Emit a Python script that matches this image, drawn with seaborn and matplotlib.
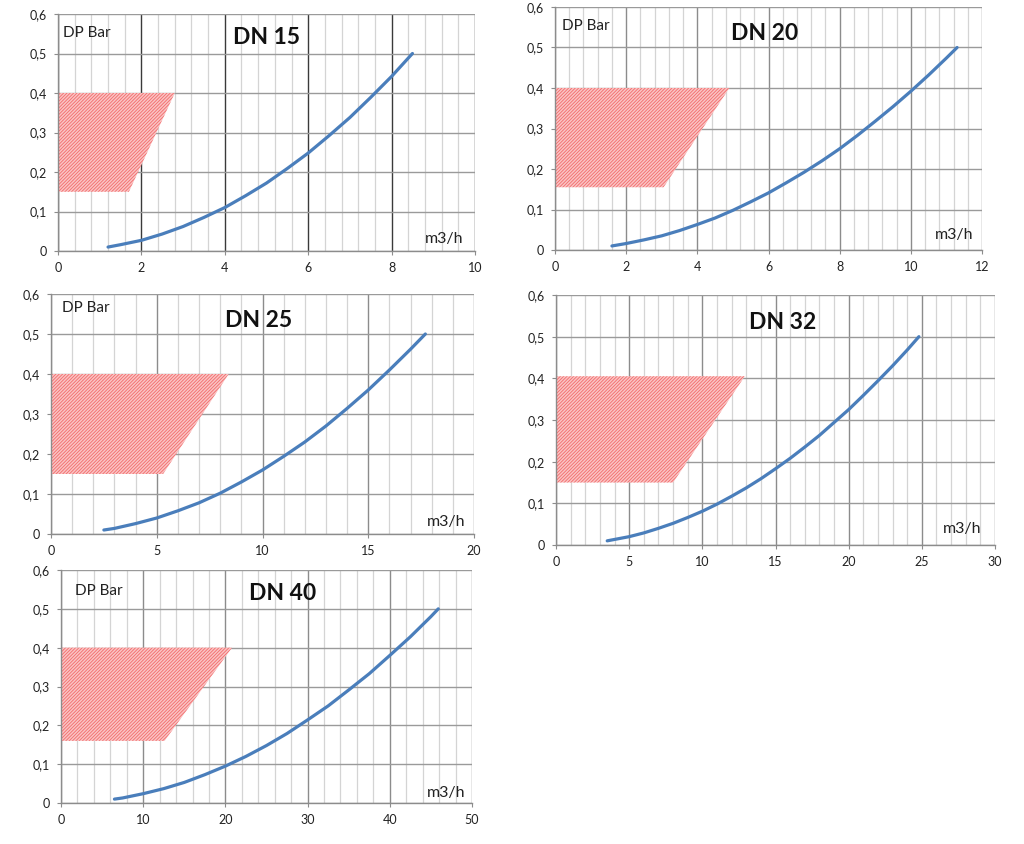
import numpy as np
import pandas as pd
import matplotlib
matplotlib.use("Agg")
import matplotlib.pyplot as plt
from matplotlib.patches import Polygon
from matplotlib.ticker import FuncFormatter, MultipleLocator
import seaborn as sns

sns.set_style("white")
plt.rcParams['font.family'] = ['Lato', 'DejaVu Sans']
plt.rcParams['hatch.linewidth'] = 0.6

# ---- data ----
titles = ["DN 15", "DN 20", "DN 25", "DN 32", "DN 40"]

q_dn15 = [1.2, 1.5, 2.0, 2.5, 3.0, 3.5, 4.0, 4.5, 5.0, 5.5, 6.0, 6.5, 7.0, 7.5, 8.0, 8.5]
dp_dn15 = [0.010, 0.016, 0.027, 0.043, 0.062, 0.085, 0.110, 0.140, 0.172, 0.209,
           0.248, 0.292, 0.338, 0.389, 0.442, 0.500]

q_dn20 = [1.6, 2.0, 2.5, 3.0, 3.5, 4.0, 4.5, 5.0, 5.5, 6.0, 6.5, 7.0, 7.5, 8.0, 8.5,
          9.0, 9.5, 10.0, 10.5, 11.0, 11.3]
dp_dn20 = [0.010, 0.016, 0.025, 0.035, 0.048, 0.063, 0.079, 0.098, 0.119, 0.141,
           0.166, 0.192, 0.220, 0.250, 0.283, 0.318, 0.354, 0.392, 0.432, 0.474, 0.500]

q_dn25 = [2.5, 3, 4, 5, 6, 7, 8, 9, 10, 11, 12, 13, 14, 15, 16, 17, 17.7]
dp_dn25 = [0.010, 0.014, 0.026, 0.040, 0.058, 0.078, 0.102, 0.130, 0.160, 0.194,
           0.230, 0.270, 0.314, 0.360, 0.410, 0.462, 0.500]

q_dn32 = [3.5, 5, 6, 7, 8, 9, 10, 11, 12, 13, 14, 15, 16, 17, 18, 19, 20, 21, 22,
          23, 24, 24.8]
dp_dn32 = [0.010, 0.020, 0.029, 0.040, 0.052, 0.066, 0.081, 0.098, 0.117, 0.137,
           0.159, 0.183, 0.208, 0.235, 0.263, 0.294, 0.325, 0.359, 0.394, 0.430,
           0.468, 0.500]

q_dn40 = [6.5, 7.5, 10, 12.5, 15, 17.5, 20, 22.5, 25, 27.5, 30, 32.5, 35, 37.5, 40,
          42.5, 45, 45.9]
dp_dn40 = [0.010, 0.013, 0.024, 0.037, 0.053, 0.073, 0.095, 0.120, 0.148, 0.179,
           0.214, 0.250, 0.291, 0.333, 0.380, 0.428, 0.480, 0.500]

# hatched zone corners: (x at bottom-right, x at top-right, y bottom, y top)
zone_dn15 = [1.7, 2.8, 0.15, 0.40]
zone_dn20 = [3.05, 4.9, 0.155, 0.40]
zone_dn25 = [5.3, 8.4, 0.15, 0.40]
zone_dn32 = [8.0, 12.9, 0.15, 0.405]
zone_dn40 = [12.6, 20.8, 0.16, 0.40]

x_max = [10, 12, 20, 30, 50]
x_major = [2, 2, 5, 5, 10]
x_minor = [0.4, 0.4, 1, 1, 2]
show_dp = [True, True, True, False, True]

curves = [(q_dn15, dp_dn15), (q_dn20, dp_dn20), (q_dn25, dp_dn25),
          (q_dn32, dp_dn32), (q_dn40, dp_dn40)]
zones = [zone_dn15, zone_dn20, zone_dn25, zone_dn32, zone_dn40]

# ---- layout ----
W, H = 1024, 844
boxes_px = [(58, 14, 475, 251), (555, 7, 982, 250), (51, 294, 474, 534),
            (556, 295, 995, 545), (61, 570, 472, 803)]
title_pos = [(0.50, 0.90), (0.49, 0.89), (0.49, 0.89), (0.517, 0.89), (0.54, 0.90)]
dp_pos = [(0.012, 0.92), (0.016, 0.92), (0.026, 0.94), None, (0.034, 0.91)]
unit_pos = [(0.971, 0.05), (0.979, 0.06), (0.979, 0.05), (0.970, 0.065), (0.983, 0.045)]
major_colors = ["#3a3a3a", "#8c8c8c", "#8c8c8c", "#8c8c8c", "#8c8c8c"]

fig = plt.figure(figsize=(W / 100, H / 100), dpi=100)

def comma_fmt(v, pos):
    if abs(v) < 1e-9:
        return "0"
    s = ("%.1f" % v) if abs(v - round(v)) > 1e-9 else ("%d" % round(v))
    return s.replace(".", ",")

for i in range(5):
    l, t, r, b = boxes_px[i]
    ax = fig.add_axes([l / W, 1 - b / H, (r - l) / W, (b - t) / H])
    q, dp = curves[i]
    df = pd.DataFrame({"q": q, "dp": dp})
    ax.set_xlim(0, x_max[i])
    ax.set_ylim(0, 0.6)

    # grid
    ax.xaxis.set_major_locator(MultipleLocator(x_major[i]))
    ax.xaxis.set_minor_locator(MultipleLocator(x_minor[i]))
    ax.yaxis.set_major_locator(MultipleLocator(0.1))
    ax.grid(which="minor", axis="x", color="#d4d4d4", linewidth=0.9)
    ax.grid(which="major", axis="x", color=major_colors[i], linewidth=1.0)
    ax.grid(which="major", axis="y", color="#9a9a9a", linewidth=1.0)
    ax.set_axisbelow(True)

    for side in ["top", "right"]:
        ax.spines[side].set_visible(False)
    for side in ["left", "bottom"]:
        ax.spines[side].set_color("#8c8c8c")
        ax.spines[side].set_linewidth(1.0)

    ax.tick_params(axis="both", which="major", length=3, width=0.8, color="#8c8c8c",
                   labelsize=9, labelcolor="#222222", pad=5, direction="out")
    ax.tick_params(axis="x", which="minor", length=0)
    ax.tick_params(left=True, bottom=True)
    ax.xaxis.set_major_formatter(FuncFormatter(comma_fmt))
    ax.yaxis.set_major_formatter(FuncFormatter(comma_fmt))

    # hatched zone
    xb, xt, yb, yt = zones[i]
    poly = Polygon([(0, yb), (0, yt), (xt, yt), (xb, yb)], closed=True,
                   facecolor="#fac4c4", edgecolor="#f26a6a", hatch="//////////",
                   linewidth=0, zorder=2)
    ax.add_patch(poly)

    # curve
    sns.lineplot(data=df, x="q", y="dp", ax=ax, color="#4a7ebb", linewidth=2.3,
                 zorder=3, sort=False)
    ax.set_xlabel("")
    ax.set_ylabel("")

    tx, ty = title_pos[i]
    ax.text(tx, ty, titles[i], transform=ax.transAxes, ha="center", va="center",
            fontsize=16.5, fontweight="bold", color="#111111", zorder=5)
    if show_dp[i]:
        dx, dy = dp_pos[i]
        ax.text(dx, dy, "DP Bar", transform=ax.transAxes, ha="left", va="center",
                fontsize=11, color="#222222", zorder=5)
    ux, uy = unit_pos[i]
    ax.text(ux, uy, "m3/h", transform=ax.transAxes, ha="right", va="center",
            fontsize=11.5, color="#222222", zorder=5)

fig.savefig("out.png", dpi=100, facecolor="white")
